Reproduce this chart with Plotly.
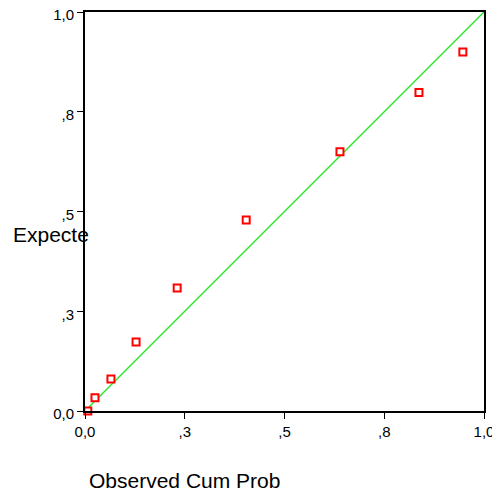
import plotly.graph_objects as go

observed = [0.007, 0.025, 0.065, 0.128, 0.231, 0.404, 0.639, 0.837, 0.947]
expected = [0.000, 0.033, 0.080, 0.173, 0.308, 0.479, 0.650, 0.798, 0.900]
ref_line = [0.0, 1.0]
tick_vals = [0.0, 0.25, 0.5, 0.75, 1.0]
tick_text = ["0,0", ",3", ",5", ",8", "1,0"]

FONT = "Liberation Sans, Arial, sans-serif"

fig = go.Figure()
fig.add_trace(go.Scatter(x=ref_line, y=ref_line, mode="lines",
                         line=dict(color="rgb(40,230,40)", width=1.4), showlegend=False,
                         hoverinfo="skip"))
fig.add_trace(go.Scatter(x=observed, y=expected, mode="markers",
                         marker=dict(symbol="square", size=7, color="white",
                                     line=dict(color="#ff0000", width=2)),
                         cliponaxis=False, showlegend=False))

axis_common = dict(range=[0, 1], tickvals=tick_vals, ticktext=tick_text,
                   showgrid=False, zeroline=False, showline=True, mirror=True,
                   linecolor="black", linewidth=2, ticks="outside", ticklen=6,
                   tickwidth=1, tickcolor="black", automargin=False,
                   ticklabeloverflow="allow",
                   tickfont=dict(family=FONT, size=15, color="black"))

# page body has an 8px margin, so the figure is shrunk to fit the window
fig.update_layout(
    width=492, height=489,
    margin=dict(l=77, r=16, t=4, b=86),
    paper_bgcolor="white", plot_bgcolor="white",
    xaxis=axis_common,
    yaxis=dict(axis_common, ticklabelshift=3),
    font=dict(family=FONT, color="black"),
    annotations=[
        dict(text="Observed Cum Prob", xref="paper", yref="paper",
             x=(184 - 85) / 399, y=(411 - 480) / 399, xanchor="center",
             yanchor="middle", showarrow=False,
             font=dict(family=FONT, size=21, color="black")),
        dict(text="Expecte", xref="paper", yref="paper",
             x=(11 - 85) / 399, y=(411 - 234) / 399, xanchor="left",
             yanchor="middle", showarrow=False,
             font=dict(family=FONT, size=21, color="black")),
    ],
)

fig.write_html("out.html")
